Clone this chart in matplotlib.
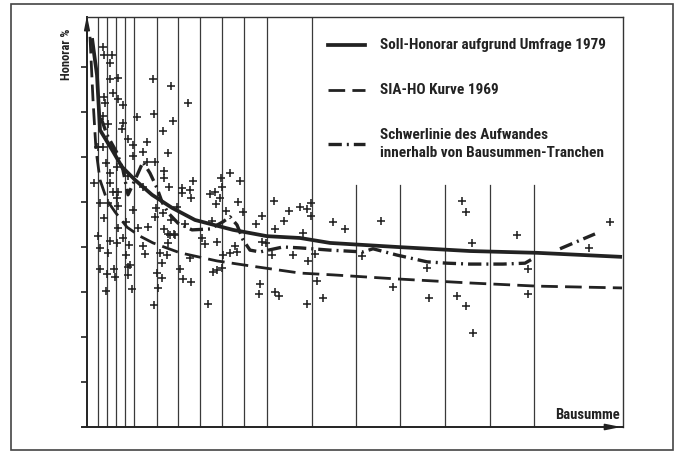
import numpy as np
import matplotlib.pyplot as plt
from matplotlib import font_manager
from matplotlib.patches import Rectangle

# x: Bausumme (arbitrary units, no scale given), y: Honorar (arbitrary %, ticks every 10)
scatter_x = [16, 17, 25, 23, 23, 31, 26, 17, 18, 31, 36, 66, 84, 101, 50, 67, 86, 16, 21, 36,
             35, 76, 41, 60, 46, 16, 56, 81, 46, 60, 68, 19, 30, 23, 77, 41, 7, 23, 77, 106,
             134, 143, 153, 56, 82, 95, 103, 26, 31, 128, 123, 95, 104, 135, 30, 13, 21, 31, 133, 129,
             151, 187, 46, 69, 90, 156, 139, 202, 213, 220, 224, 224, 175, 169, 197, 125, 17, 31, 39, 51,
             61, 68, 76, 84, 77, 87, 81, 98, 188, 216, 246, 258, 294, 375, 379, 523, 430, 385, 502, 11,
             13, 23, 30, 36, 42, 21, 13, 20, 27, 28, 41, 39, 43, 41, 45, 19, 56, 58, 73, 75,
             70, 75, 71, 67, 80, 81, 83, 88, 93, 96, 104, 103, 115, 118, 130, 126, 130, 135, 136, 143,
             148, 150, 121, 173, 172, 188, 192, 175, 179, 185, 206, 221, 228, 230, 220, 236, 275, 340, 441, 306,
             342, 370, 379, 386, 441, 11]
scatter_y = [84.4, 82.7, 82.7, 80.9, 77.3, 77.6, 74.2, 73.3, 72.0, 72.9, 71.6, 77.3, 75.8, 72.0, 68.9, 69.6, 68.0, 69.1, 67.3, 67.6,
             66.2, 65.8, 64.0, 63.3, 62.7, 62.2, 61.1, 60.9, 60.2, 58.9, 58.9, 58.7, 57.8, 56.4, 56.9, 55.8, 54.2, 54.2, 55.3, 54.7,
             55.3, 56.4, 54.7, 53.3, 53.3, 53.1, 52.7, 52.2, 52.2, 52.2, 51.8, 52.0, 50.9, 53.3, 50.9, 49.8, 49.8, 49.1, 50.9, 49.6,
             50.0, 50.2, 48.2, 48.7, 48.9, 47.8, 48.0, 48.0, 48.9, 48.4, 49.8, 46.9, 46.9, 45.1, 45.8, 45.8, 46.4, 44.2, 45.6, 44.2,
             44.4, 46.7, 47.6, 46.0, 44.0, 42.9, 42.9, 45.1, 44.0, 43.1, 45.6, 44.0, 45.8, 50.2, 47.8, 45.6, 42.7, 40.9, 39.8, 42.4,
             39.8, 41.3, 40.9, 42.0, 40.4, 38.7, 35.1, 34.0, 35.1, 33.3, 35.6, 38.2, 36.0, 33.8, 30.7, 30.2, 40.2, 38.4, 38.7, 36.4,
             34.2, 33.1, 30.9, 27.1, 38.2, 40.9, 42.7, 42.7, 35.1, 32.9, 32.2, 37.6, 42.0, 40.7, 41.1, 34.4, 34.9, 35.3, 38.2, 38.7,
             40.2, 38.9, 27.3, 31.8, 29.6, 30.0, 29.1, 41.1, 40.9, 38.2, 38.2, 36.9, 38.4, 32.4, 27.3, 28.7, 38.0, 35.3, 35.1, 31.1,
             28.7, 29.1, 26.9, 20.9, 29.6, 62.2]

# Soll-Honorar aufgrund Umfrage 1979
soll_x = [5, 10, 13, 25, 35, 48, 65, 85, 108, 146, 180, 213, 243, 310, 383, 450, 535]
soll_y = [86.4, 78.2, 66.0, 61.6, 57.8, 54.9, 51.6, 48.7, 46.0, 43.8, 42.4, 42.0, 40.9, 40.0, 39.1, 38.7, 37.8]

# SIA-HO Kurve 1969
sia_x = [3, 6, 9, 13, 20, 28, 40, 53, 66, 93, 130, 163, 213, 246, 310, 383, 450, 535]
sia_y = [86.7, 72.7, 61.6, 54.9, 50.4, 47.8, 44.4, 42.4, 40.9, 38.7, 36.9, 35.8, 34.2, 33.8, 32.9, 32.0, 31.3, 30.9]

# Schwerlinie des Aufwandes (broken before the last tranche)
schwer_x = [14, 20, 30, 36, 41, 48, 56, 63, 70, 75, 81, 91, 105, 123, 136, 143, 150, 156, 163, 173,
            196, 213, 243, 276, 286, 310, 340, 360, 383, 416, 438, 445, np.nan, 473, 508]
schwer_y = [68.7, 64.9, 60.9, 57.1, 51.6, 54.9, 58.9, 56.4, 53.1, 50.0, 47.6, 45.3, 43.8, 44.0, 45.6, 46.7, 44.9, 41.6, 39.3, 38.9,
            40.0, 39.8, 39.3, 38.9, 39.6, 38.2, 36.7, 36.4, 36.2, 36.2, 36.4, 37.3, np.nan, 39.6, 42.9]

# Tranchen boundaries (vertical lines); the ones right of the legend stop below it
tranche_x = [11, 20, 29, 38, 47, 70, 91, 113, 135, 157, 180, 225, 269, 313, 358, 403, 447]
legend_bottom = 53.8

labels = ['Soll-Honorar aufgrund Umfrage 1979',
          'SIA-HO Kurve 1969',
          'Schwerlinie des Aufwandes\ninnerhalb von Bausummen-Tranchen']

XMAX, YMAX = 536, 91.1
ink = '#222222'

# the original uses a condensed grotesque; take a narrow face if one is installed
font = ['Liberation Sans', 'DejaVu Sans']
stretch = 'normal'
leg_size, lab_size, ax_size = 9.6, 8.2, 9.2
names = {(f.name, str(f.stretch)) for f in font_manager.fontManager.ttflist}
for fam, st in [('Roboto Condensed', 'condensed'), ('Liberation Sans Narrow', 'condensed'),
                ('DejaVu Sans', 'condensed'), ('Open Sans Condensed', 'condensed')]:
    if any(n == fam and (fam != 'DejaVu Sans' or 'condensed' in s) for n, s in names):
        font = [fam, 'DejaVu Sans']
        stretch = st
        leg_size, lab_size, ax_size = 11, 9, 10.5
        break

fig = plt.figure(figsize=(6.79, 4.53), dpi=100)
fig.patches.append(Rectangle((11 / 679, 3 / 453), 662 / 679, 446 / 453, transform=fig.transFigure,
                             fill=False, edgecolor='#444444', linewidth=1.2))

ax = fig.add_axes([87 / 679, 26 / 453, 536 / 679, 410 / 453])
ax.set_xlim(0, XMAX)
ax.set_ylim(0, YMAX)

for xv in tranche_x:
    top = YMAX if xv < 250 else legend_bottom
    ax.plot([xv, xv], [0, top], color='#3a3a3a', lw=0.9, zorder=1)

ax.plot(scatter_x, scatter_y, linestyle='none', marker='+', ms=5.5, mew=1.15, color=ink, zorder=3)

ax.plot(soll_x, soll_y, color=ink, lw=2.7, solid_capstyle='butt', zorder=4)
ax.plot(sia_x, sia_y, color=ink, lw=2.0, dashes=(6, 2.6), zorder=4)
ax.plot(schwer_x, schwer_y, color=ink, lw=2.4, dashes=(4, 1.5, 0.6, 1.5), zorder=4)

for s in ['top', 'right']:
    ax.spines[s].set_linewidth(1.0)
    ax.spines[s].set_color('#333333')
for s in ['left', 'bottom']:
    ax.spines[s].set_linewidth(1.4)
    ax.spines[s].set_color(ink)

ax.set_xticks([])
ax.set_yticks(np.arange(10, 90, 10))
ax.set_yticklabels([])
ax.tick_params(axis='y', direction='out', length=4, width=1.2, color=ink)

# axis arrows and the small overhang of the x axis
ax.plot([-5, 0], [0, 0], color=ink, lw=1.4, clip_on=False)
ax.annotate('', xy=(XMAX + 1, 0), xytext=(XMAX - 16, 0), xycoords='data',
            arrowprops=dict(arrowstyle='-|>,head_length=0.9,head_width=0.18', color=ink, lw=1.2),
            annotation_clip=False)
ax.annotate('', xy=(0, YMAX + 1), xytext=(0, YMAX - 6), xycoords='data',
            arrowprops=dict(arrowstyle='-|>,head_length=0.8,head_width=0.16', color=ink, lw=1.2),
            annotation_clip=False)

ax.text(-20 / 536, 0.91, 'Honorar %', transform=ax.transAxes, rotation=90, ha='center', va='center',
        fontsize=lab_size, fontweight='bold', family=font, fontstretch=stretch, color=ink)
ax.text(0.995, 0.03, 'Bausumme', transform=ax.transAxes, ha='right', va='center',
        fontsize=ax_size, fontweight='bold', family=font, fontstretch=stretch, color=ink)

# legend, drawn by hand
leg_y = [0.932, 0.822, 0.690]
styles = [dict(lw=2.7), dict(lw=2.0, dashes=(6, 2.6)), dict(lw=2.4, dashes=(4, 1.5, 0.6, 1.5))]
for yy, lab, st in zip(leg_y, labels, styles):
    ax.plot([0.450, 0.519], [yy, yy], transform=ax.transAxes, color=ink, **st)
    ax.text(0.547, yy, lab, transform=ax.transAxes, ha='left', va='center', fontsize=leg_size,
            fontweight='bold', family=font, fontstretch=stretch, color=ink, linespacing=1.3)

fig.savefig('out.png', dpi=100)
